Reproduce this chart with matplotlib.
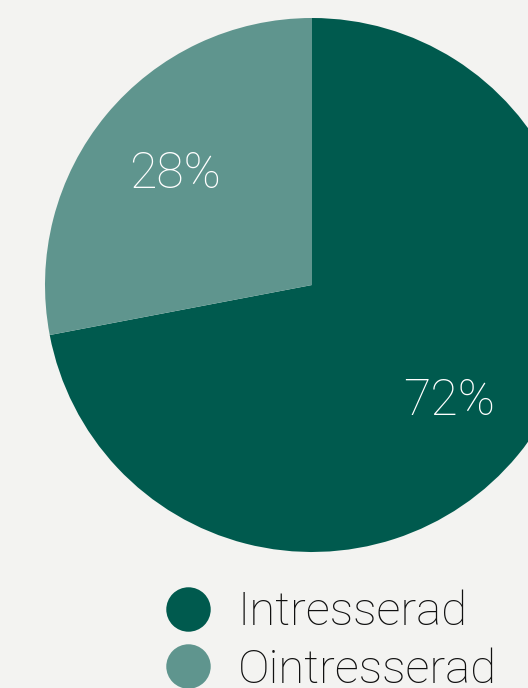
import matplotlib
matplotlib.use("Agg")
import matplotlib.pyplot as plt
import matplotlib.transforms as mtransforms
from matplotlib.lines import Line2D

categories = ["Intresserad", "Ointresserad"]
values = [72, 28]
colors = ["#005a4e", "#5f958e"]
bg = "#f3f3f1"

plt.rcParams['font.family'] = ['Roboto', 'DejaVu Sans']

fig = plt.figure(figsize=(5.28, 6.88), dpi=100, facecolor=bg)
ax = fig.add_axes([0, 0, 1, 1])
ax.set_facecolor(bg)

wedges, texts, autotexts = ax.pie(
    values, colors=colors, startangle=90, counterclock=False,
    center=(312, 403), radius=267, frame=True,
    autopct=lambda p: f"{p:.0f}%", pctdistance=0.667,
    textprops=dict(color="white", fontsize=36, fontweight="light"),
    wedgeprops=dict(linewidth=0),
)
for t in autotexts:
    t.set_transform(mtransforms.offset_copy(ax.transData, fig=fig, x=0, y=-3, units='dots'))
ax.set_xlim(0, 528)
ax.set_ylim(0, 688)
ax.set_aspect('equal')
ax.axis('off')

handles = [Line2D([], [], marker='o', linestyle='none', markersize=32,
                  markerfacecolor=c, markeredgewidth=0) for c in colors]
leg = fig.legend(handles, categories, loc='center left',
                 bbox_to_anchor=(160 / 528, 1 - 641 / 688),
                 frameon=False, prop=dict(size=34, weight='light'),
                 handletextpad=0.45, labelspacing=0.28, handlelength=1.2,
                 borderpad=0, borderaxespad=0)
for t in leg.get_texts():
    t.set_color("#111111")

fig.savefig("out.png", dpi=100, facecolor=bg)
